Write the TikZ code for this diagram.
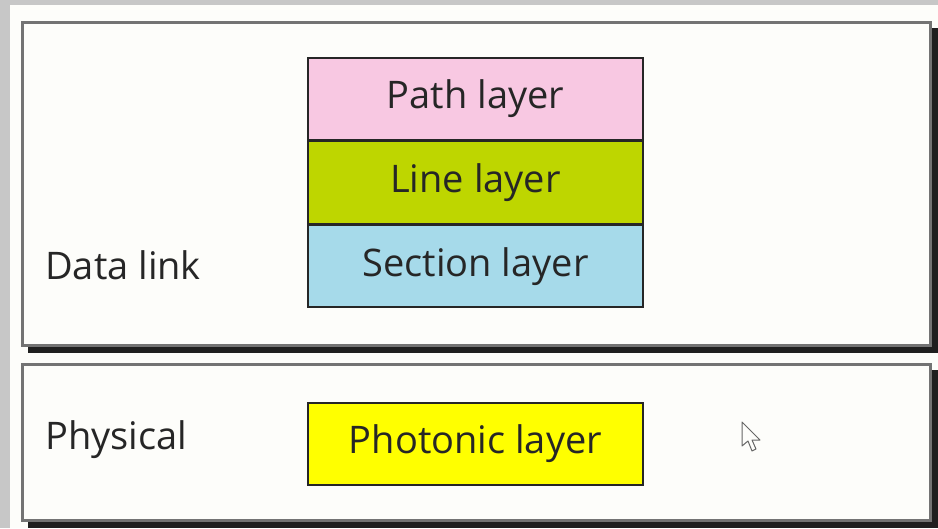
\documentclass[tikz,border=0pt]{standalone}
\usepackage{fontspec}
\setmainfont{Open Sans}
\usetikzlibrary{positioning}
\definecolor{pathpink}{RGB}{248,200,226}
\definecolor{linegreen}{RGB}{190,214,0}
\definecolor{sectblue}{RGB}{166,218,234}
\definecolor{photyellow}{RGB}{255,255,0}
\definecolor{paper}{RGB}{253,253,250}
\tikzset{
  layer/.style={draw=black!85, line width=1.6pt, minimum width=335pt, minimum height=82pt,
    inner sep=0pt, text=black!85, font=\fontsize{38}{42}\selectfont},
  panel/.style={draw=black!55, line width=3pt, fill=paper},
  tag/.style={anchor=west, inner sep=0pt, text=black!85, font=\fontsize{38}{42}\selectfont}
}
\begin{document}
\begin{tikzpicture}[x=1pt,y=-1pt]
                \useasboundingbox (0,0) rectangle (938,528);
                \fill[black!22] (0,0) rectangle (938,528);
                \fill[paper] (10,5) rectangle (938,528);
                % upper panel
                \fill[black!88] (28,28) rectangle (938,353);
                \draw[panel] (22,22) rectangle (930,345);
                % lower panel
                \fill[black!88] (28,370) rectangle (938,528);
                \draw[panel] (22,364) rectangle (930,520);
                \node[layer, fill=pathpink] (pathl) at (475.5,99) {Path layer};
                \node[layer, fill=linegreen, below=0pt of pathl] (linel) {Line layer};
                \node[layer, fill=sectblue, below=0pt of linel] (sectl) {Section layer};
                \node[layer, fill=photyellow] (photl) at (475.5,444) {Photonic layer};
                \node[tag] (dlink) at (45,265) {Data link};
                \node[tag] (phys) at (45,440) {Physical};
                % pointer
                \draw[black!60, line width=1pt, fill=paper, line join=round]
                    (742,422) -- (742,446) -- (748,441) -- (752,451) -- (756,449)
                    -- (752,440) -- (760,440) -- cycle;
            \end{tikzpicture}
\end{document}
